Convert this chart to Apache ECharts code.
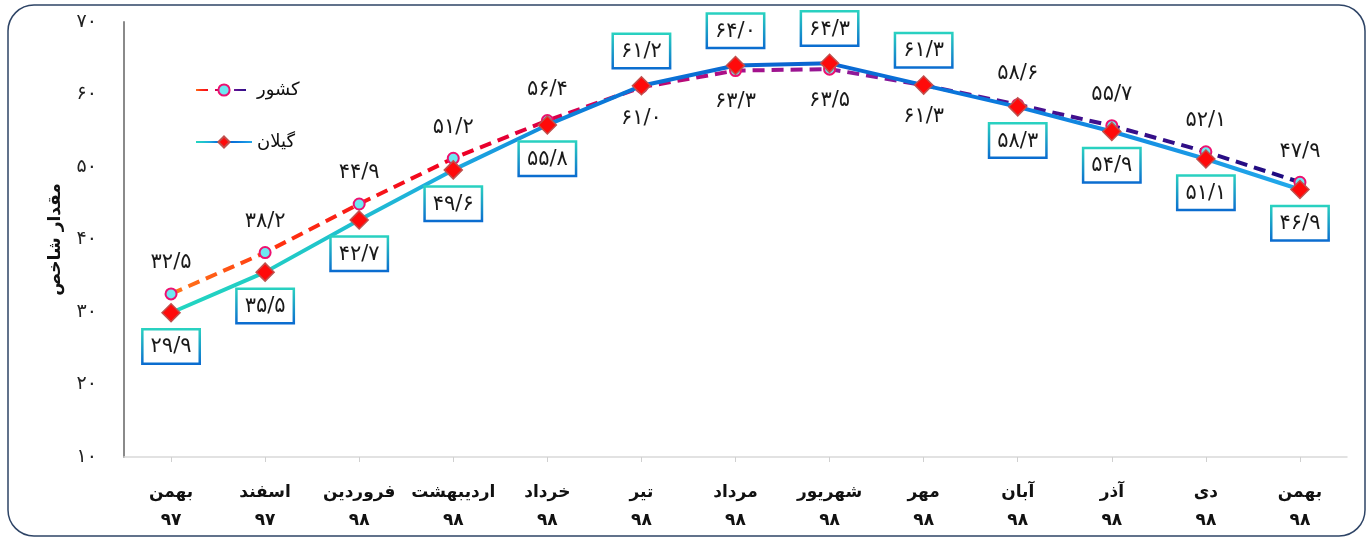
<!DOCTYPE html>
<html>
<head>
<meta charset="utf-8">
<script src="https://cdn.jsdelivr.net/npm/echarts@6/dist/echarts.min.js"></script>
<style>
html,body{margin:0;padding:0;background:#fff;}
#chart{width:1372px;height:538px;}
</style>
</head>
<body>
<div id="chart"></div>
<script>
const months = ['بهمن','اسفند','فروردین','اردیبهشت','خرداد','تیر','مرداد','شهریور','مهر','آبان','آذر','دی','بهمن'];
const years = ['۹۷','۹۷','۹۸','۹۸','۹۸','۹۸','۹۸','۹۸','۹۸','۹۸','۹۸','۹۸','۹۸'];
const countryName = 'کشور';
const gilanName = 'گیلان';
const countryValues = [32.5, 38.2, 44.9, 51.2, 56.4, 61.0, 63.3, 63.5, 61.3, 58.6, 55.7, 52.1, 47.9];
const gilanValues = [29.9, 35.5, 42.7, 49.6, 55.8, 61.2, 64.0, 64.3, 61.3, 58.3, 54.9, 51.1, 46.9];
const yAxisName = 'مقدار شاخص';
const yMin = 10, yMax = 70, yInterval = 10;
// categories where the country label goes below and the Gilan label goes above
const swapped = [5, 6, 7, 8];

const FA = '۰۱۲۳۴۵۶۷۸۹';
const toFa = s => String(s).replace(/[0-9]/g, d => FA[+d]);
const fmtVal = v => toFa(v.toFixed(1)).replace('.', '/');
const categories = months.map((m, i) => m + '\n' + years[i]);

const font = 'DejaVu Sans';

const countryGrad = new echarts.graphic.LinearGradient(0, 0, 1, 0, [
  {offset: 0, color: '#ff7a1a'},
  {offset: 0.1, color: '#ff3010'},
  {offset: 0.25, color: '#f00020'},
  {offset: 0.38, color: '#d0005a'},
  {offset: 0.5, color: '#a8108a'},
  {offset: 0.62, color: '#8a1a9a'},
  {offset: 0.75, color: '#4a1090'},
  {offset: 1, color: '#1c0c80'}
]);
const gilanGrad = new echarts.graphic.LinearGradient(0, 0, 1, 0, [
  {offset: 0, color: '#22d6c0'},
  {offset: 0.12, color: '#20c8c8'},
  {offset: 0.25, color: '#1eaae0'},
  {offset: 0.38, color: '#0a78d8'},
  {offset: 0.55, color: '#0a64d0'},
  {offset: 0.72, color: '#0a78dc'},
  {offset: 1, color: '#22aaea'}
]);
const boxBorder = new echarts.graphic.LinearGradient(0, 0, 0, 1, [
  {offset: 0, color: '#2ad4c0'},
  {offset: 1, color: '#0a6ad0'}
]);

const countryData = countryValues.map((v, i) => {
  const item = {value: v};
  if (swapped.includes(i)) item.label = {position: 'bottom'};
  return item;
});
const gilanData = gilanValues.map((v, i) => {
  const item = {value: v};
  if (swapped.includes(i)) item.label = {position: 'top', distance: 9};
  return item;
});

const chart = echarts.init(document.getElementById('chart'), null, {renderer: 'canvas'});
chart.setOption({
  animation: false,
  backgroundColor: '#ffffff',
  textStyle: {fontFamily: font},
  graphic: [{
    type: 'rect', z: -10, silent: true,
    shape: {x: 8, y: 5, width: 1357, height: 531, r: 26},
    style: {fill: 'none', stroke: '#2e4466', lineWidth: 1.5}
  }],
  legend: {
    orient: 'vertical',
    left: 190, top: 76,
    itemWidth: 56, itemHeight: 14,
    itemGap: 34,
    textStyle: {fontFamily: font, fontSize: 18, color: '#111'},
    data: [countryName, gilanName]
  },
  grid: {left: 124, right: 25, top: 22, bottom: 81},
  xAxis: {
    type: 'category',
    data: categories,
    boundaryGap: true,
    axisLine: {lineStyle: {color: '#d9d9d9', width: 1.5}},
    axisTick: {show: true, alignWithLabel: true, length: 5, lineStyle: {color: '#d0d0d0'}},
    axisLabel: {
      margin: 22, fontFamily: font, fontSize: 17, fontWeight: 'bold',
      color: '#111', lineHeight: 28, interval: 0
    },
    splitLine: {show: false}
  },
  yAxis: {
    type: 'value',
    min: yMin, max: yMax, interval: yInterval,
    name: yAxisName,
    nameLocation: 'middle',
    nameGap: 60,
    nameTextStyle: {fontFamily: font, fontSize: 17, fontWeight: 'bold', color: '#111'},
    axisLine: {show: true, lineStyle: {color: '#8a8a8a', width: 2}},
    axisTick: {show: false},
    splitLine: {show: false},
    axisLabel: {margin: 27, fontFamily: font, fontSize: 19, color: '#222', formatter: v => toFa(v)}
  },
  series: [
    {
      name: countryName,
      type: 'line',
      data: countryData,
      symbol: 'circle',
      symbolSize: 11,
      z: 2,
      lineStyle: {color: countryGrad, width: 4, type: [12, 7]},
      itemStyle: {color: '#6ee8f2', borderColor: '#ee1070', borderWidth: 2},
      label: {
        show: true, position: 'top', distance: 14,
        fontFamily: font, fontSize: 21, color: '#1a1a1a',
        formatter: p => fmtVal(p.value)
      }
    },
    {
      name: gilanName,
      type: 'line',
      data: gilanData,
      symbol: 'diamond',
      symbolSize: 18,
      z: 3,
      lineStyle: {color: gilanGrad, width: 4},
      itemStyle: {color: '#ff0a0a', borderColor: '#c0504d', borderWidth: 1.5},
      label: {
        show: true, position: 'bottom', distance: 8,
        fontFamily: font, fontSize: 21, color: '#1a1a1a',
        backgroundColor: '#ffffff',
        borderColor: boxBorder, borderWidth: 2.5,
        padding: [6, 7, 5, 7],
        formatter: p => fmtVal(p.value)
      }
    }
  ]
});
</script>
</body>
</html>
